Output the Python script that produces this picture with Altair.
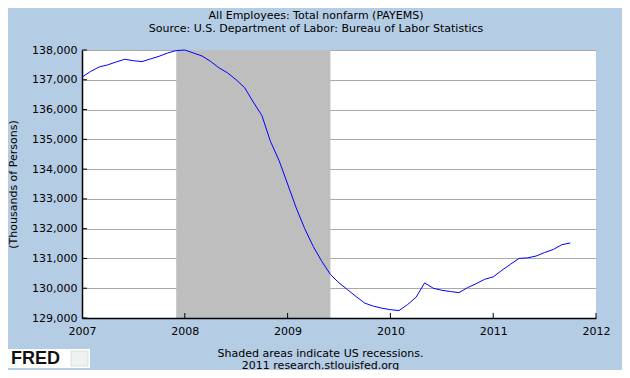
import altair as alt
import pandas as pd

# ---- data ----
months = pd.date_range("2007-01-01", periods=58, freq="MS")
payems = [
    137090, 137280, 137430, 137500, 137600, 137690, 137640, 137610, 137700, 137790, 137900, 137980,  # 2007
    138000, 137900, 137800, 137620, 137400, 137230, 137000, 136730, 136250, 135800, 134930, 134290,  # 2008
    133500, 132700, 132000, 131400, 130900, 130460, 130180, 129950, 129720, 129500, 129400, 129330,  # 2009
    129280, 129250, 129450, 129700, 130180, 130000, 129930, 129890, 129850, 130020, 130150, 130300,  # 2010
    130380, 130600, 130800, 131000, 131020, 131080, 131200, 131300, 131460, 131520,                  # 2011
]
years = [2007, 2008, 2009, 2010, 2011, 2012]
y_ticks = [129000, 130000, 131000, 132000, 133000, 134000, 135000, 136000, 137000, 138000]
recession_start = [2007 + 11 / 12]   # Dec 2007
recession_end = [2009 + 5 / 12]      # Jun 2009

title_lines = ["All Employees: Total nonfarm (PAYEMS)",
               "Source: U.S. Department of Labor: Bureau of Labor Statistics"]
footer_lines = ["Shaded areas indicate US recessions.", "2011 research.stlouisfed.org"]

df = pd.DataFrame({"t": [d.year + (d.month - 1) / 12 for d in months], "v": payems})
rec = pd.DataFrame({"start": recession_start, "end": recession_end})
xt = pd.DataFrame({"yr": years[1:]})
yt = pd.DataFrame({"yv": y_ticks})
one = pd.DataFrame({"a": [0]})

FONT = "DejaVu Sans"
W, H = 514, 268
xscale = alt.Scale(domain=[2007, 2012], nice=False, zero=False)
yscale = alt.Scale(domain=[129000, 138000], nice=False, zero=False)

x_axis = alt.Axis(
    values=years, format="d", grid=False, ticks=False, tickSize=0,
    domainColor="black", domainWidth=1.5, labelFlush=False,
    labelFont=FONT, labelFontSize=11, labelColor="black", labelPadding=7,
    title=footer_lines, titleFont=FONT, titleFontSize=11, titleFontWeight="normal",
    titleColor="black", titleX=238, titleY=29, titleBaseline="top",
    titleLineHeight=12, zindex=1)
y_axis = alt.Axis(
    values=y_ticks, format=",d", grid=True, gridColor="#AAAAAA", gridWidth=1,
    ticks=False, tickSize=0, domainColor="black", domainWidth=1.5,
    labelFont=FONT, labelFontSize=11, labelColor="black", labelPadding=5,
    title="(Thousands of Persons)", titleFont=FONT, titleFontSize=11,
    titleFontWeight="normal", titleColor="black", titlePadding=13)

rect = alt.Chart(rec).mark_rect(color="#BEBEBE").encode(
    x=alt.X("start:Q", scale=xscale, axis=x_axis, title=footer_lines),
    x2="end:Q",
)

line = alt.Chart(df).mark_line(color="#0000FF", strokeWidth=1).encode(
    x=alt.X("t:Q", scale=xscale, axis=x_axis, title=footer_lines),
    y=alt.Y("v:Q", scale=yscale, axis=y_axis, title="(Thousands of Persons)"),
)

xticks = alt.Chart(xt).mark_rule(color="black", strokeWidth=1).encode(
    x=alt.X("yr:Q", scale=xscale, axis=x_axis, title=footer_lines),
    y=alt.value(H - 5), y2=alt.value(H),
)
yticks = alt.Chart(yt).mark_rule(color="black", strokeWidth=1).encode(
    y=alt.Y("yv:Q", scale=yscale, axis=y_axis, title="(Thousands of Persons)"),
    x=alt.value(0), x2=alt.value(5),
)

# FRED logo (decoration)
logo_box = alt.Chart(one).mark_rect(color="white").encode(
    x=alt.value(-74), x2=alt.value(8), y=alt.value(299), y2=alt.value(318))
logo_text = alt.Chart(one).mark_text(
    text="FRED", font="Liberation Sans", fontWeight="bold", fontSize=18,
    align="left", baseline="alphabetic", color="#111111").encode(
    x=alt.value(-71), y=alt.value(314))
logo_icon = alt.Chart(one).mark_rect(color="#EEF2F0", stroke="#C8D0CC", strokeWidth=0.6).encode(
    x=alt.value(-11), x2=alt.value(6), y=alt.value(301), y2=alt.value(316))

chart = alt.layer(rect, line, xticks, yticks, logo_box, logo_text, logo_icon).properties(
    width=W, height=H,
    autosize=alt.AutoSizeParams(type="none"),
    padding={"left": 74, "top": 42, "right": 26, "bottom": 52},
    background="#B4CCE4",
    title=alt.Title(text=title_lines, font=FONT, fontSize=11, fontWeight="normal",
                    color="black", anchor="middle", dx=-23, offset=10, lineHeight=13),
).configure_view(stroke=None, fill="white")

chart.save("out.html", embed_options={"renderer": "svg", "actions": False})
